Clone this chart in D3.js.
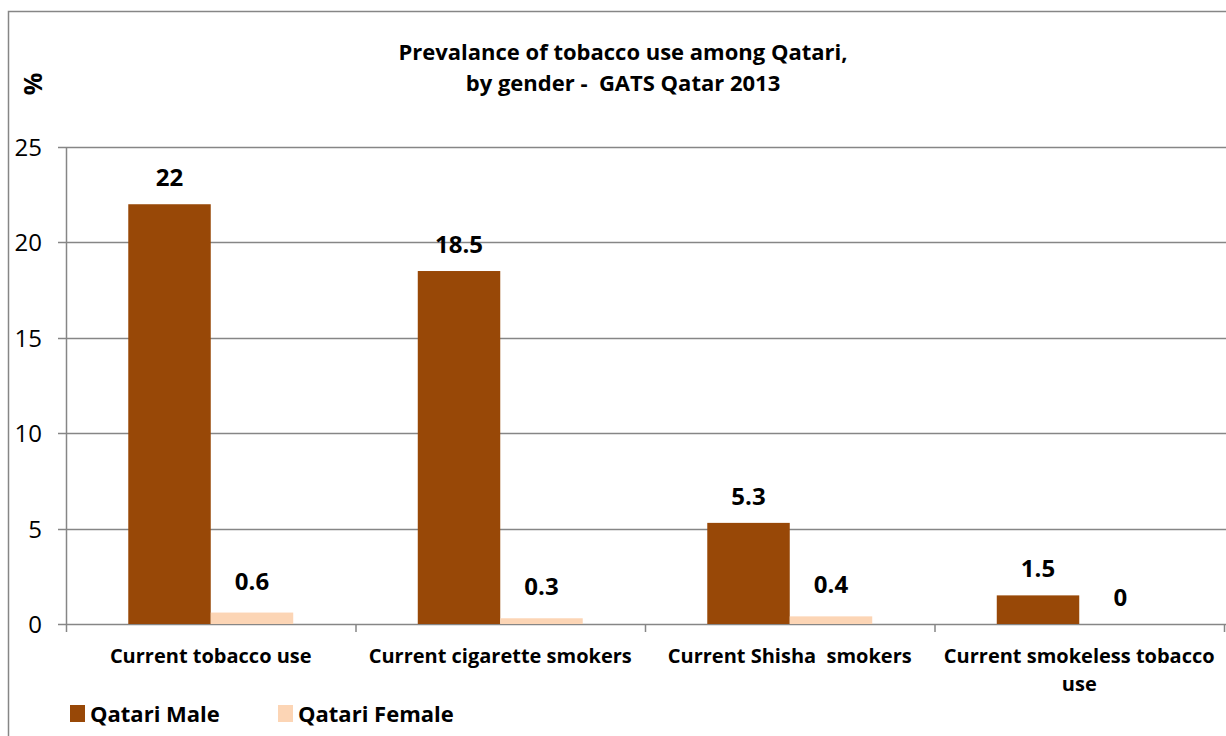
<!DOCTYPE html>
<html>
<head>
<meta charset="utf-8">
<script src="https://cdn.jsdelivr.net/npm/d3@7"></script>
<style>
  body { margin: 0; background: #fff; }
  svg { display: block; font-family: "Open Sans", "Noto Sans", sans-serif; }
  svg text { white-space: pre; }
</style>
</head>
<body>
<svg id="chart" width="1226" height="736"></svg>
<script>
'use strict';

const categories = [
    ['Current tobacco use'],
    ['Current cigarette smokers'],
    ['Current Shisha  smokers'],
    ['Current smokeless tobacco', 'use']
];
const series = ['Qatari Male', 'Qatari Female'];
const maleValues = [22, 18.5, 5.3, 1.5];
const femaleValues = [0.6, 0.3, 0.4, 0];
const yTicks = [0, 5, 10, 15, 20, 25];
const colors = ['#984807', '#fcd5b5'];

function drawChart() {
    const svg = d3.select('#chart');
    const left = 66, right = 1224, top = 147, bottom = 624;

    // frame round the whole chart
    svg.append('rect')
        .attr('x', 8.5).attr('y', 11.5)
        .attr('width', 1240).attr('height', 760)
        .style('fill', 'none')
        .style('stroke', '#868686')
        .style('stroke-width', 1.5);

    const x = d3.scaleBand()
        .domain(d3.range(categories.length))
        .range([left, right])
        .padding(0);

    const sub = d3.scaleBand()
        .domain(series)
        .range([0, x.bandwidth()])
        .paddingInner(0)
        .paddingOuter(0.755);

    const y = d3.scaleLinear()
        .domain([0, 25])
        .range([bottom, top]);

    // gridlines
    svg.append('g')
        .selectAll('line')
        .data(yTicks)
        .enter()
        .append('line')
        .attr('x1', left - 8)
        .attr('x2', 1226)
        .attr('y1', function(d) {return Math.round(y(d)) + 0.5;})
        .attr('y2', function(d) {return Math.round(y(d)) + 0.5;})
        .style('stroke', '#868686')
        .style('stroke-width', 1.5);

    // y axis line
    svg.append('line')
        .attr('x1', left + 0.5).attr('x2', left + 0.5)
        .attr('y1', top).attr('y2', bottom)
        .style('stroke', '#868686')
        .style('stroke-width', 1.5);

    // y tick labels
    svg.append('g')
        .selectAll('text')
        .data(yTicks)
        .enter()
        .append('text')
        .attr('x', 42)
        .attr('y', function(d) {return y(d) + 9;})
        .attr('text-anchor', 'end')
        .style('font-size', '24px')
        .style('fill', '#000')
        .text(function(d) {return d;});

    // x category ticks
    svg.append('g')
        .selectAll('line')
        .data(d3.range(categories.length + 1))
        .enter()
        .append('line')
        .attr('x1', function(d) {return left + d * x.bandwidth() + 0.5;})
        .attr('x2', function(d) {return left + d * x.bandwidth() + 0.5;})
        .attr('y1', bottom)
        .attr('y2', bottom + 8)
        .style('stroke', '#868686')
        .style('stroke-width', 1.5);

    // bars
    const groups = svg.append('g')
        .selectAll('g')
        .data(d3.range(categories.length))
        .enter()
        .append('g')
        .attr('transform', function(i) {return 'translate(' + x(i) + ',0)';});

    const rows = function(i) {
        return [
            {key: series[0], value: maleValues[i], color: colors[0]},
            {key: series[1], value: femaleValues[i], color: colors[1]}
        ];
    };

    groups.selectAll('rect')
        .data(rows)
        .enter()
        .append('rect')
        .attr('x', function(d) {return sub(d.key);})
        .attr('width', sub.bandwidth())
        .attr('y', function(d) {return y(d.value);})
        .attr('height', function(d) {return bottom - y(d.value);})
        .style('fill', function(d) {return d.color;});

    groups.selectAll('text')
        .data(rows)
        .enter()
        .append('text')
        .attr('x', function(d) {return sub(d.key) + sub.bandwidth() / 2;})
        .attr('y', function(d) {return y(d.value) - (d.key === series[1] && d.value > 0 ? 23 : 18);})
        .attr('text-anchor', 'middle')
        .style('font-size', '24px')
        .style('font-weight', 'bold')
        .text(function(d) {return d.value;});

    // category labels
    const labels = svg.append('g')
        .selectAll('text')
        .data(categories)
        .enter()
        .append('text')
        .attr('x', function(d, i) {return x(i) + x.bandwidth() / 2;})
        .attr('y', 663)
        .attr('text-anchor', 'middle')
        .style('font-size', '20px')
        .style('font-weight', 'bold');

    labels.selectAll('tspan')
        .data(function(d) {return d;})
        .enter()
        .append('tspan')
        .attr('x', function() {return d3.select(this.parentNode).attr('x');})
        .attr('dy', function(d, j) {return j === 0 ? 0 : 28;})
        .text(function(d) {return d;});

    // title
    const title = svg.append('text')
        .attr('x', 623)
        .attr('y', 60)
        .attr('text-anchor', 'middle')
        .style('font-size', '22px')
        .style('font-weight', 'bold');
    title.append('tspan').attr('x', 623).text('Prevalance of tobacco use among Qatari,');
    title.append('tspan').attr('x', 623).attr('dy', 31).text('by gender -  GATS Qatar 2013');

    // y axis title
    svg.append('text')
        .attr('transform', 'translate(42,84) rotate(-90)')
        .attr('text-anchor', 'middle')
        .style('font-size', '25px')
        .style('font-weight', 'bold')
        .text('%');

    // legend
    const legendX = [70, 278];
    const legend = svg.append('g')
        .selectAll('g')
        .data(series)
        .enter()
        .append('g')
        .attr('transform', function(d, i) {return 'translate(' + legendX[i] + ',705)';});

    legend.append('rect')
        .attr('width', 15).attr('height', 17)
        .style('fill', function(d, i) {return colors[i];});

    legend.append('text')
        .attr('x', 20)
        .attr('y', 17)
        .style('font-size', '22px')
        .style('font-weight', 'bold')
        .text(function(d) {return d;});
}

drawChart();
</script>
</body>
</html>
